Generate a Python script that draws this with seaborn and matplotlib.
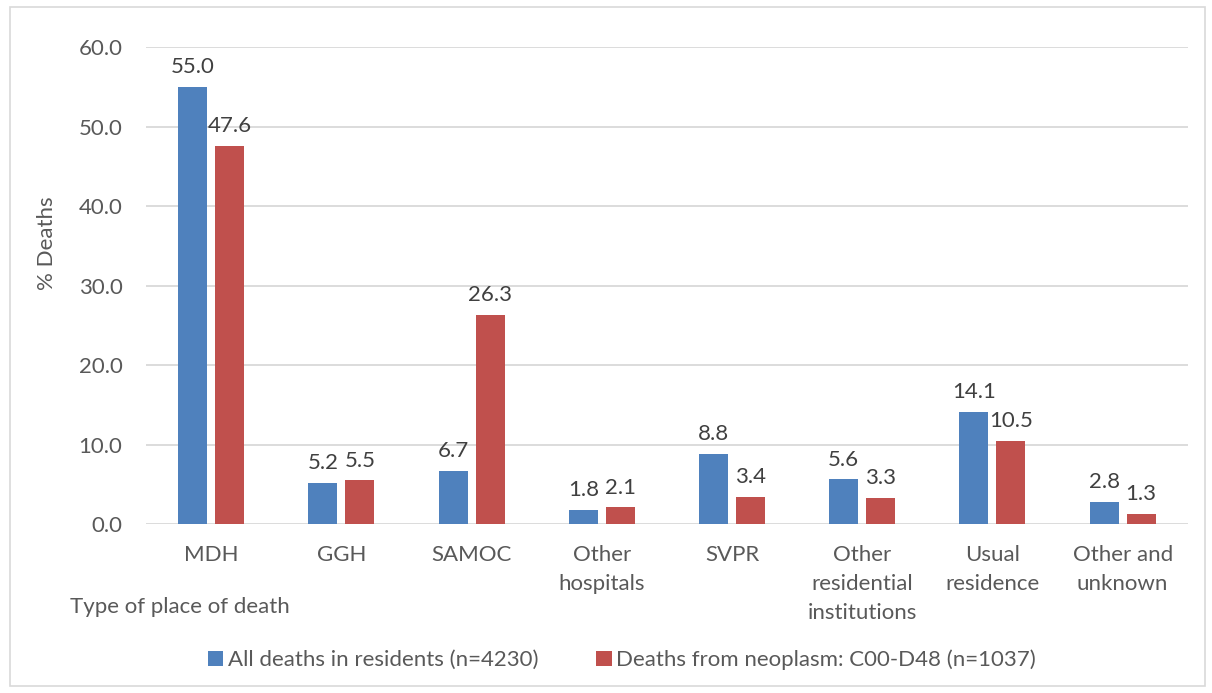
import matplotlib
matplotlib.use("Agg")
import matplotlib.pyplot as plt
from matplotlib.patches import Rectangle
import seaborn as sns
import pandas as pd

categories = ["MDH", "GGH", "SAMOC", "Other\nhospitals", "SVPR",
              "Other\nresidential\ninstitutions", "Usual\nresidence", "Other and\nunknown"]
all_deaths = [55.0, 5.2, 6.7, 1.8, 8.8, 5.6, 14.1, 2.8]
neoplasm_deaths = [47.6, 5.5, 26.3, 2.1, 3.4, 3.3, 10.5, 1.3]
series_names = ["All deaths in residents (n=4230)",
                "Deaths from neoplasm: C00-D48 (n=1037)"]
y_ticks = [0, 10, 20, 30, 40, 50, 60]

df = pd.DataFrame({
    "place": categories * 2,
    "pct": all_deaths + neoplasm_deaths,
    "series": [series_names[0]] * len(categories) + [series_names[1]] * len(categories),
})

sns.set_theme(style="white")
plt.rcParams["font.family"] = ["Lato", "DejaVu Sans"]
text_color = "#595959"
grid_color = "#d9d9d9"
fs = 16

fig = plt.figure(figsize=(12.12, 6.93), dpi=100)
ax = fig.add_axes([0.1205, 0.2439, 0.8595, 0.6881])

sns.barplot(data=df, x="place", y="pct", hue="series", order=categories,
            hue_order=series_names, palette=["#4F81BD", "#C0504D"],
            width=0.568, linewidth=0, saturation=1, ax=ax, legend=True)

# narrow each bar around its own centre to leave a gap between the pair
bar_w = 0.223
for cont in ax.containers:
    for p in cont.patches:
        cx = p.get_x() + p.get_width() / 2
        p.set_width(bar_w)
        p.set_x(cx - bar_w / 2)
    ax.bar_label(cont, fmt="%.1f", padding=7, fontsize=fs, color="#404040")

ax.set_ylim(0, 60)
ax.set_yticks(y_ticks)
ax.set_yticklabels([f"{v:.1f}" for v in y_ticks])
ax.yaxis.grid(True, color=grid_color, linewidth=1.3)
ax.set_axisbelow(True)
for s in ax.spines.values():
    s.set_visible(False)
ax.tick_params(axis="both", length=0, labelsize=fs, colors=text_color)
ax.tick_params(axis="y", pad=17)
ax.tick_params(axis="x", pad=15)
ax.set_xlabel("")
ax.set_ylabel("")

fig.text(47 / 1212, 1 - 243 / 693, "% Deaths", rotation=90, ha="center", va="center",
         fontsize=fs, color=text_color)
fig.text(70 / 1212, 1 - 607 / 693, "Type of place of death", ha="left", va="center",
         fontsize=fs, color=text_color)

handles, labels = ax.get_legend_handles_labels()
ax.get_legend().remove()
fig.legend(handles, labels, loc="center", bbox_to_anchor=(0.513, 1 - 660 / 693),
           ncol=2, frameon=False, fontsize=fs, labelcolor=text_color,
           handlelength=0.7, handleheight=0.7, handletextpad=0.2, columnspacing=2.6)

fig.patches.append(Rectangle((10 / 1212, 7 / 693), 1195 / 1212, 679 / 693,
                             transform=fig.transFigure, fill=False,
                             edgecolor=grid_color, linewidth=1.2))

# wider line spacing for the wrapped category names
fig.canvas.draw()
for lbl in ax.get_xticklabels():
    lbl.set_linespacing(1.58)

fig.savefig("out.png", dpi=100)
